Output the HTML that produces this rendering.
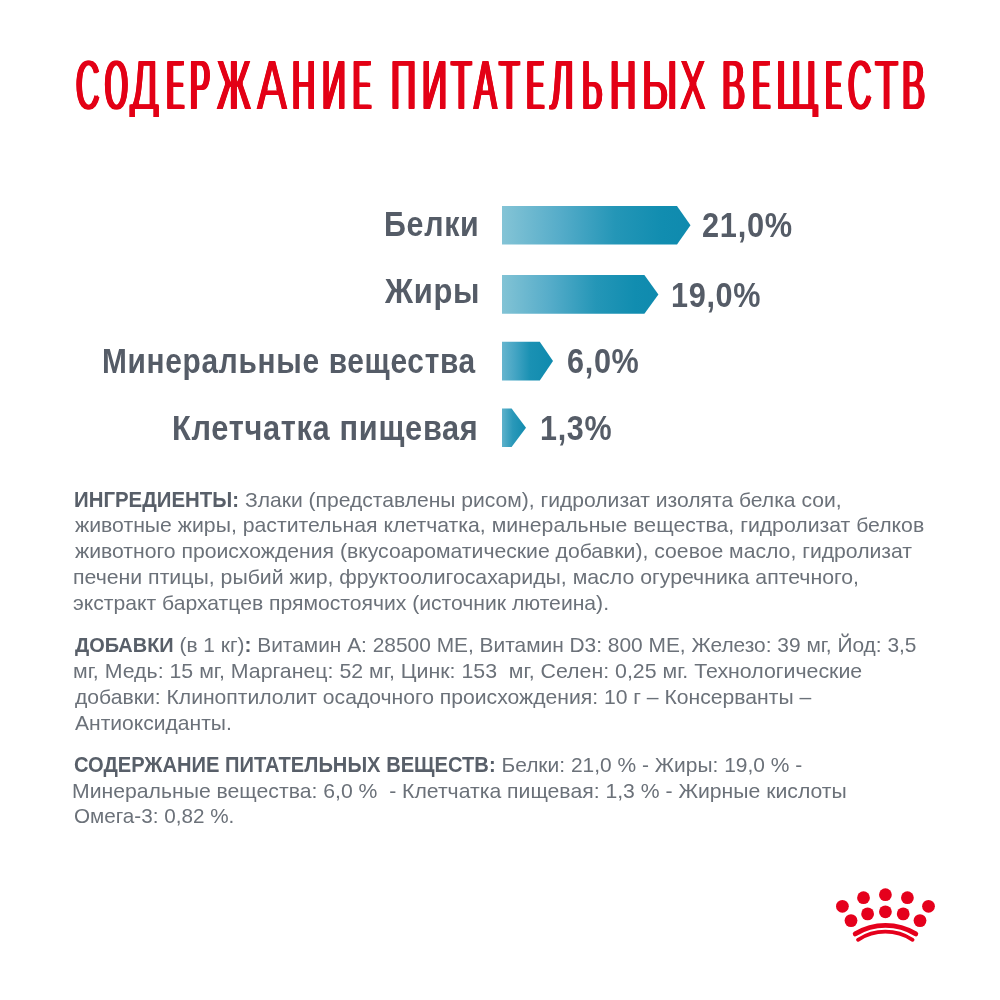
<!DOCTYPE html>
<html><head><meta charset="utf-8"><style>
html,body{margin:0;padding:0;background:#fff;width:1000px;height:1000px;overflow:hidden}
.t{position:absolute;white-space:nowrap;font-family:"Liberation Sans",sans-serif;line-height:1;transform-origin:0 0}
b{font-weight:700;color:#585f69} .bk{display:inline-block;transform-origin:0 0}
svg{position:absolute;left:0;top:0}
</style></head><body>
<svg width="1000" height="1000" viewBox="0 0 1000 1000">
<linearGradient id="g0" gradientUnits="userSpaceOnUse" x1="502" y1="0" x2="690.5" y2="0"><stop offset="0" stop-color="#84c4d6"/><stop offset="0.31" stop-color="#55acc9"/><stop offset="0.6" stop-color="#2496b7"/><stop offset="0.85" stop-color="#118db0"/><stop offset="1" stop-color="#0f8aae"/></linearGradient>
<linearGradient id="g1" gradientUnits="userSpaceOnUse" x1="502" y1="0" x2="658.4" y2="0"><stop offset="0" stop-color="#82c3d5"/><stop offset="0.31" stop-color="#55acc9"/><stop offset="0.6" stop-color="#2496b7"/><stop offset="0.85" stop-color="#118db0"/><stop offset="1" stop-color="#0f8aae"/></linearGradient>
<linearGradient id="g2" gradientUnits="userSpaceOnUse" x1="502" y1="0" x2="553.0" y2="0"><stop offset="0" stop-color="#66b5ce"/><stop offset="0.25" stop-color="#45a5c4"/><stop offset="0.55" stop-color="#1a91b3"/><stop offset="1" stop-color="#0f8aae"/></linearGradient>
<linearGradient id="g3" gradientUnits="userSpaceOnUse" x1="502" y1="0" x2="526.0" y2="0"><stop offset="0" stop-color="#5eb2cb"/><stop offset="0.45" stop-color="#2a98b9"/><stop offset="1" stop-color="#118bae"/></linearGradient>
<polygon fill="url(#g0)" points="502,206.0 677,206.0 690.5,225.25 677,244.5 502,244.5"/>
<polygon fill="url(#g1)" points="502,275.0 644.4,275.0 658.4,294.4 644.4,313.8 502,313.8"/>
<polygon fill="url(#g2)" points="502,341.8 539.8,341.8 553.0,361.1 539.8,380.4 502,380.4"/>
<polygon fill="url(#g3)" points="502,408.6 511.6,408.6 526.0,427.8 511.6,447.0 502,447.0"/>
<g fill="#e5001c"><circle cx="885.4" cy="894.7" r="6.4"/><circle cx="863.5" cy="897.7" r="6.4"/><circle cx="907.4" cy="897.7" r="6.4"/><circle cx="842.4" cy="906.3" r="6.4"/><circle cx="928.5" cy="906.3" r="6.4"/><circle cx="867.6" cy="913.9" r="6.4"/><circle cx="885.4" cy="911.8" r="6.4"/><circle cx="903.2" cy="913.9" r="6.4"/><circle cx="851.0" cy="920.6" r="6.4"/><circle cx="920.0" cy="920.6" r="6.4"/></g><g fill="none" stroke="#e5001c" stroke-linecap="round">
<path d="M855.2 933.9 A58.2 58.2 0 0 1 915.8 933.9" stroke-width="4.8"/>
<path d="M858 939.8 A50 50 0 0 1 912.6 939.8" stroke-width="3.8"/>
</g>
</svg>
<svg width="0" height="0" style="position:absolute"><filter id="ero" x="-5%" y="-20%" width="110%" height="140%"><feMorphology operator="erode" radius="0 1"/></filter></svg><div style="position:absolute;left:0;top:0;width:1000px;height:140px;filter:url(#ero)"><div class="t" style="left:75.54px;top:49.38px;font-size:71px;color:#e30613;transform:scaleX(0.4600);text-shadow:2.86px 0 0 #e30613,-2.86px 0 0 #e30613,0 0.8px 0 #e30613,2.86px 0.8px 0 #e30613,-2.86px 0.8px 0 #e30613">С</div><div class="t" style="left:105.00px;top:49.38px;font-size:71px;color:#e30613;transform:scaleX(0.4107);text-shadow:3.59px 0 0 #e30613,-3.59px 0 0 #e30613,0 0.8px 0 #e30613,3.59px 0.8px 0 #e30613,-3.59px 0.8px 0 #e30613">О</div><div class="t" style="left:129.60px;top:49.38px;font-size:71px;color:#e30613;transform:scaleX(0.6000);text-shadow:1.44px 0 0 #e30613,-1.44px 0 0 #e30613,0 0.8px 0 #e30613,1.44px 0.8px 0 #e30613,-1.44px 0.8px 0 #e30613;clip-path:inset(-30px -30px 2.38px -30px)">Д</div><div class="t" style="left:166.65px;top:49.38px;font-size:71px;color:#e30613;transform:scaleX(0.3542);text-shadow:4.68px 0 0 #e30613,-4.68px 0 0 #e30613,0 0.8px 0 #e30613,4.68px 0.8px 0 #e30613,-4.68px 0.8px 0 #e30613">Е</div><div class="t" style="left:190.16px;top:49.38px;font-size:71px;color:#e30613;transform:scaleX(0.4222);text-shadow:3.40px 0 0 #e30613,-3.40px 0 0 #e30613,0 0.8px 0 #e30613,3.40px 0.8px 0 #e30613,-3.40px 0.8px 0 #e30613">Р</div><div class="t" style="left:216.51px;top:49.38px;font-size:71px;color:#e30613;transform:scaleX(0.5147);text-shadow:2.21px 0 0 #e30613,-2.21px 0 0 #e30613,0 0.8px 0 #e30613,2.21px 0.8px 0 #e30613,-2.21px 0.8px 0 #e30613">Ж</div><div class="t" style="left:256.63px;top:49.38px;font-size:71px;color:#e30613;transform:scaleX(0.6327);text-shadow:1.20px 0 0 #e30613,-1.20px 0 0 #e30613,0 0.8px 0 #e30613,1.20px 0.8px 0 #e30613,-1.20px 0.8px 0 #e30613">А</div><div class="t" style="left:291.63px;top:49.38px;font-size:71px;color:#e30613;transform:scaleX(0.4565);text-shadow:2.90px 0 0 #e30613,-2.90px 0 0 #e30613,0 0.8px 0 #e30613,2.90px 0.8px 0 #e30613,-2.90px 0.8px 0 #e30613">Н</div><div class="t" style="left:321.60px;top:49.38px;font-size:71px;color:#e30613;transform:scaleX(0.4667);text-shadow:2.77px 0 0 #e30613,-2.77px 0 0 #e30613,0 0.8px 0 #e30613,2.77px 0.8px 0 #e30613,-2.77px 0.8px 0 #e30613">И</div><div class="t" style="left:353.23px;top:49.38px;font-size:71px;color:#e30613;transform:scaleX(0.3830);text-shadow:4.08px 0 0 #e30613,-4.08px 0 0 #e30613,0 0.8px 0 #e30613,4.08px 0.8px 0 #e30613,-4.08px 0.8px 0 #e30613">Е</div><div class="t" style="left:390.53px;top:49.38px;font-size:71px;color:#e30613;transform:scaleX(0.4889);text-shadow:2.50px 0 0 #e30613,-2.50px 0 0 #e30613,0 0.8px 0 #e30613,2.50px 0.8px 0 #e30613,-2.50px 0.8px 0 #e30613">П</div><div class="t" style="left:421.53px;top:49.38px;font-size:71px;color:#e30613;transform:scaleX(0.4889);text-shadow:2.50px 0 0 #e30613,-2.50px 0 0 #e30613,0 0.8px 0 #e30613,2.50px 0.8px 0 #e30613,-2.50px 0.8px 0 #e30613">И</div><div class="t" style="left:451.48px;top:49.38px;font-size:71px;color:#e30613;transform:scaleX(0.4783);text-shadow:2.62px 0 0 #e30613,-2.62px 0 0 #e30613,0 0.8px 0 #e30613,2.62px 0.8px 0 #e30613,-2.62px 0.8px 0 #e30613">Т</div><div class="t" style="left:473.96px;top:49.38px;font-size:71px;color:#e30613;transform:scaleX(0.4808);text-shadow:2.59px 0 0 #e30613,-2.59px 0 0 #e30613,0 0.8px 0 #e30613,2.59px 0.8px 0 #e30613,-2.59px 0.8px 0 #e30613">А</div><div class="t" style="left:499.48px;top:49.38px;font-size:71px;color:#e30613;transform:scaleX(0.4783);text-shadow:2.62px 0 0 #e30613,-2.62px 0 0 #e30613,0 0.8px 0 #e30613,2.62px 0.8px 0 #e30613,-2.62px 0.8px 0 #e30613">Т</div><div class="t" style="left:526.65px;top:49.38px;font-size:71px;color:#e30613;transform:scaleX(0.3542);text-shadow:4.68px 0 0 #e30613,-4.68px 0 0 #e30613,0 0.8px 0 #e30613,4.68px 0.8px 0 #e30613,-4.68px 0.8px 0 #e30613">Е</div><div class="t" style="left:550.02px;top:49.38px;font-size:71px;color:#e30613;transform:scaleX(0.5111);text-shadow:2.25px 0 0 #e30613,-2.25px 0 0 #e30613,0 0.8px 0 #e30613,2.25px 0.8px 0 #e30613,-2.25px 0.8px 0 #e30613">Л</div><div class="t" style="left:581.67px;top:49.38px;font-size:71px;color:#e30613;transform:scaleX(0.4419);text-shadow:3.11px 0 0 #e30613,-3.11px 0 0 #e30613,0 0.8px 0 #e30613,3.11px 0.8px 0 #e30613,-3.11px 0.8px 0 #e30613">Ь</div><div class="t" style="left:610.47px;top:49.38px;font-size:71px;color:#e30613;transform:scaleX(0.5111);text-shadow:2.25px 0 0 #e30613,-2.25px 0 0 #e30613,0 0.8px 0 #e30613,2.25px 0.8px 0 #e30613,-2.25px 0.8px 0 #e30613">Н</div><div class="t" style="left:641.75px;top:49.38px;font-size:71px;color:#e30613;transform:scaleX(0.5636);text-shadow:1.74px 0 0 #e30613,-1.74px 0 0 #e30613,0 0.8px 0 #e30613,1.74px 0.8px 0 #e30613,-1.74px 0.8px 0 #e30613">Ы</div><div class="t" style="left:680.00px;top:49.38px;font-size:71px;color:#e30613;transform:scaleX(0.5417);text-shadow:1.94px 0 0 #e30613,-1.94px 0 0 #e30613,0 0.8px 0 #e30613,1.94px 0.8px 0 #e30613,-1.94px 0.8px 0 #e30613">Х</div><div class="t" style="left:721.53px;top:49.38px;font-size:71px;color:#e30613;transform:scaleX(0.4884);text-shadow:2.50px 0 0 #e30613,-2.50px 0 0 #e30613,0 0.8px 0 #e30613,2.50px 0.8px 0 #e30613,-2.50px 0.8px 0 #e30613">В</div><div class="t" style="left:752.65px;top:49.38px;font-size:71px;color:#e30613;transform:scaleX(0.3542);text-shadow:4.68px 0 0 #e30613,-4.68px 0 0 #e30613,0 0.8px 0 #e30613,4.68px 0.8px 0 #e30613,-4.68px 0.8px 0 #e30613">Е</div><div class="t" style="left:774.67px;top:49.38px;font-size:71px;color:#e30613;transform:scaleX(0.6667);text-shadow:0.97px 0 0 #e30613,-0.97px 0 0 #e30613,0 0.8px 0 #e30613,0.97px 0.8px 0 #e30613,-0.97px 0.8px 0 #e30613;clip-path:inset(-30px -30px 2.38px -30px)">Щ</div><div class="t" style="left:826.00px;top:49.38px;font-size:71px;color:#e30613;transform:scaleX(0.3200);text-shadow:5.52px 0 0 #e30613,-5.52px 0 0 #e30613,0 0.8px 0 #e30613,5.52px 0.8px 0 #e30613,-5.52px 0.8px 0 #e30613">Е</div><div class="t" style="left:847.54px;top:49.38px;font-size:71px;color:#e30613;transform:scaleX(0.4600);text-shadow:2.86px 0 0 #e30613,-2.86px 0 0 #e30613,0 0.8px 0 #e30613,2.86px 0.8px 0 #e30613,-2.86px 0.8px 0 #e30613">С</div><div class="t" style="left:874.53px;top:49.38px;font-size:71px;color:#e30613;transform:scaleX(0.5333);text-shadow:2.00px 0 0 #e30613,-2.00px 0 0 #e30613,0 0.8px 0 #e30613,2.00px 0.8px 0 #e30613,-2.00px 0.8px 0 #e30613">Т</div><div class="t" style="left:901.53px;top:49.38px;font-size:71px;color:#e30613;transform:scaleX(0.4884);text-shadow:2.50px 0 0 #e30613,-2.50px 0 0 #e30613,0 0.8px 0 #e30613,2.50px 0.8px 0 #e30613,-2.50px 0.8px 0 #e30613">В</div></div>
<div class="t" style="left:383.64px;top:206.50px;font-size:34.6px;font-weight:700;color:#555c67;transform:scaleX(0.8788);letter-spacing:0.8px">Белки</div>
<div class="t" style="left:384.60px;top:274.20px;font-size:34.6px;font-weight:700;color:#555c67;transform:scaleX(0.8951);letter-spacing:0.8px">Жиры</div>
<div class="t" style="left:102.27px;top:343.50px;font-size:34.6px;font-weight:700;color:#555c67;transform:scaleX(0.8631);letter-spacing:0.8px">Минеральные вещества</div>
<div class="t" style="left:172.22px;top:410.70px;font-size:34.6px;font-weight:700;color:#555c67;transform:scaleX(0.8882);letter-spacing:0.8px">Клетчатка пищевая</div>
<div class="t" style="left:702.32px;top:207.27px;font-size:35px;font-weight:700;color:#555c67;transform:scaleX(0.8792);letter-spacing:0.8px">21,0%</div>
<div class="t" style="left:671.05px;top:276.57px;font-size:35px;font-weight:700;color:#555c67;transform:scaleX(0.8740);letter-spacing:0.8px">19,0%</div>
<div class="t" style="left:566.63px;top:342.97px;font-size:35px;font-weight:700;color:#555c67;transform:scaleX(0.8737);letter-spacing:0.8px">6,0%</div>
<div class="t" style="left:539.66px;top:410.37px;font-size:35px;font-weight:700;color:#555c67;transform:scaleX(0.8709);letter-spacing:0.8px">1,3%</div>
<div class="t" style="left:74.00px;top:488.62px;font-size:21px;font-weight:400;color:#6b7179;transform:scaleX(1.0039);"><b class="bk" style="font-size:22.0px;transform:scaleX(0.9244);margin-right:-13.47px">ИНГРЕДИЕНТЫ:</b> Злаки (представлены рисом), гидролизат изолята белка сои,</div>
<div class="t" style="left:74.50px;top:514.32px;font-size:21px;font-weight:400;color:#6b7179;transform:scaleX(1.0106);">животные жиры, растительная клетчатка, минеральные вещества, гидролизат белков</div>
<div class="t" style="left:74.50px;top:540.22px;font-size:21px;font-weight:400;color:#6b7179;transform:scaleX(1.0084);">животного происхождения (вкусоароматические добавки), соевое масло, гидролизат</div>
<div class="t" style="left:73.49px;top:566.02px;font-size:21px;font-weight:400;color:#6b7179;transform:scaleX(1.0131);">печени птицы, рыбий жир, фруктоолигосахариды, масло огуречника аптечного,</div>
<div class="t" style="left:73.49px;top:591.82px;font-size:21px;font-weight:400;color:#6b7179;transform:scaleX(1.0066);">экстракт бархатцев прямостоячих (источник лютеина).</div>
<div class="t" style="left:74.50px;top:634.22px;font-size:21px;font-weight:400;color:#6b7179;transform:scaleX(0.9949);"><b class="bk" style="font-size:21.0px;transform:scaleX(0.9549);margin-right:-4.69px">ДОБАВКИ</b> (в 1 кг)<b>:</b> Витамин А: 28500 МЕ, Витамин D3: 800 МЕ, Железо: 39 мг, Йод: 3,5</div>
<div class="t" style="left:73.48px;top:660.22px;font-size:21px;font-weight:400;color:#6b7179;transform:scaleX(1.0156);">мг, Медь: 15 мг, Марганец: 52 мг, Цинк: 153&nbsp; мг, Селен: 0,25 мг. Технологические</div>
<div class="t" style="left:74.50px;top:686.22px;font-size:21px;font-weight:400;color:#6b7179;transform:scaleX(1.0064);">добавки: Клиноптилолит осадочного происхождения: 10 г – Консерванты –</div>
<div class="t" style="left:74.50px;top:712.22px;font-size:21px;font-weight:400;color:#6b7179;transform:scaleX(1.0032);">Антиоксиданты.</div>
<div class="t" style="left:73.50px;top:754.42px;font-size:21px;font-weight:400;color:#6b7179;transform:scaleX(0.9979);"><b class="bk" style="font-size:21.3px;transform:scaleX(0.9470);margin-right:-23.63px">СОДЕРЖАНИЕ ПИТАТЕЛЬНЫХ ВЕЩЕСТВ:</b> Белки: 21,0 % - Жиры: 19,0 % -</div>
<div class="t" style="left:72.48px;top:779.82px;font-size:21px;font-weight:400;color:#6b7179;transform:scaleX(1.0090);">Минеральные вещества: 6,0 %&nbsp; - Клетчатка пищевая: 1,3 % - Жирные кислоты</div>
<div class="t" style="left:73.52px;top:805.42px;font-size:21px;font-weight:400;color:#6b7179;transform:scaleX(0.9844);">Омега-3: 0,82 %.</div>
</body></html>
